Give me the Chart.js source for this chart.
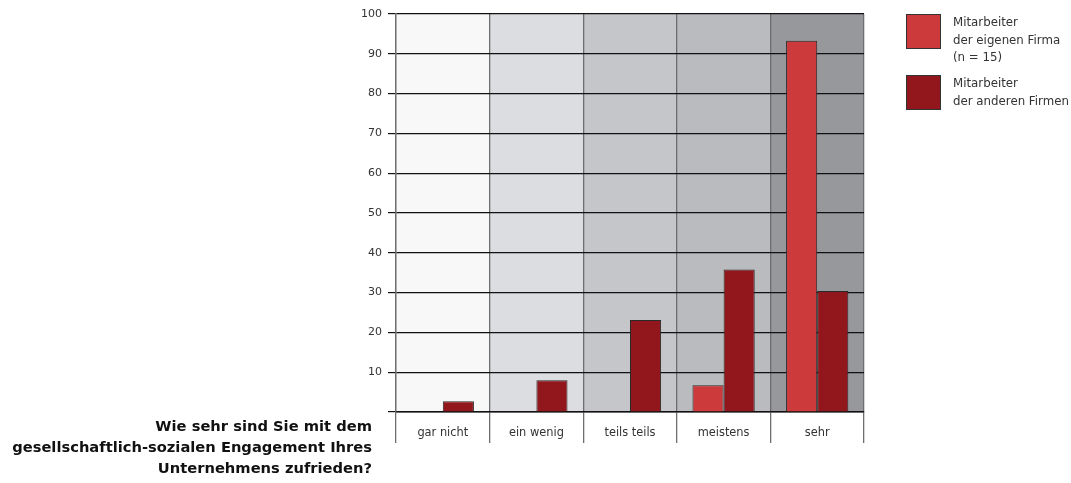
<!DOCTYPE html>
<html><head><meta charset="utf-8">
<script src="https://cdn.jsdelivr.net/npm/chart.js@4"></script>
<style>
html,body{margin:0;padding:0;background:#fff;}
#wrap{position:relative;width:1071px;height:483px;}
#title{position:absolute;right:699px;top:415px;width:420px;text-align:right;font:bold 14.7px "DejaVu Sans";line-height:21px;color:#111;}
#legend{position:absolute;left:906px;top:14px;font:11.8px "DejaVu Sans";color:#333;}
.item{position:relative;height:61px;}
.box{position:absolute;left:0;top:0;width:33px;height:33px;border:1px solid #333;}
.txt{position:absolute;left:47px;top:0px;line-height:17.5px;white-space:nowrap;}
</style></head>
<body>
<div id="wrap">
<canvas id="c"></canvas>
<div id="title">Wie sehr sind Sie mit dem<br>gesellschaftlich-sozialen Engagement Ihres<br>Unternehmens zufrieden?</div>
<div id="legend"></div>
</div>
<script>
const categories = ["gar nicht", "ein wenig", "teils teils", "meistens", "sehr"];
const seriesLabels = [["Mitarbeiter", "der eigenen Firma", "(n = 15)"], ["Mitarbeiter", "der anderen Firmen"]];
const eigeneFirma = [0, 0, 0, 6.7, 93.3];
const andereFirmen = [2.7, 8.0, 23.1, 35.8, 30.4];
const yTicks = [10, 20, 30, 40, 50, 60, 70, 80, 90, 100];
const colors = ["#cc3a3b", "#92171c"];
const bgShades = ["#f8f8f8", "#dcdde0", "#c4c6c9", "#b9bbbf", "#96989c"];

const bgPlugin = {
  id: "catbg",
  beforeDraw(chart) {
    const {ctx, chartArea, scales} = chart;
    const x = scales.x;
    ctx.save();
    categories.forEach((c, i) => {
      const l = x.getPixelForValue(i - 0.5), r = x.getPixelForValue(i + 0.5);
      ctx.fillStyle = bgShades[i];
      ctx.fillRect(l, chartArea.top, r - l, chartArea.bottom - chartArea.top);
    });
    ctx.restore();
  }
};

const chart = new Chart(document.getElementById("c"), {
  type: "bar",
  data: {
    labels: categories,
    datasets: [
      {label: seriesLabels[0].join(" "), data: eigeneFirma, backgroundColor: colors[0], borderColor: "#2a2a2a", borderWidth: 1, barPercentage: 1, categoryPercentage: 0.665},
      {label: seriesLabels[1].join(" "), data: andereFirmen, backgroundColor: colors[1], borderColor: "#2a2a2a", borderWidth: 1, barPercentage: 1, categoryPercentage: 0.665}
    ]
  },
  options: {
    responsive: true,
    maintainAspectRatio: false,
    animation: false,
    devicePixelRatio: 1,
    layout: {padding: {left: 0, right: 207, top: 14, bottom: 0}},
    plugins: {legend: {display: false}, tooltip: {enabled: false}},
    scales: {
      x: {
        offset: true,
        grid: {offset: true, color: "#6e6e6e", lineWidth: 1.3, tickLength: 31, drawOnChartArea: true},
        border: {display: true, color: "#111", width: 1.5},
        ticks: {color: "#333", font: {family: "DejaVu Sans", size: 11.4}, padding: -17, maxRotation: 0},
        afterFit(s) { s.height = 71; }
      },
      y: {
        min: 0, max: 100,
        afterBuildTicks(s) { s.ticks = [0].concat(yTicks).map(v => ({value: v})); },
        grid: {color: "#111", lineWidth: 1.2, tickLength: 8},
        border: {display: true, color: "#6e6e6e", width: 1.3},
        ticks: {color: "#333", font: {family: "DejaVu Sans", size: 11}, padding: 6, callback: v => v === 0 ? "" : v},
        afterFit(s) { s.width = 396; }
      }
    }
  },
  plugins: [bgPlugin]
});

const lg = document.getElementById("legend");
seriesLabels.forEach((lines, i) => {
  const d = document.createElement("div"); d.className = "item";
  const b = document.createElement("div"); b.className = "box"; b.style.background = colors[i];
  const t = document.createElement("div"); t.className = "txt"; t.innerHTML = lines.join("<br>");
  d.appendChild(b); d.appendChild(t); lg.appendChild(d);
});
</script>
</body></html>
